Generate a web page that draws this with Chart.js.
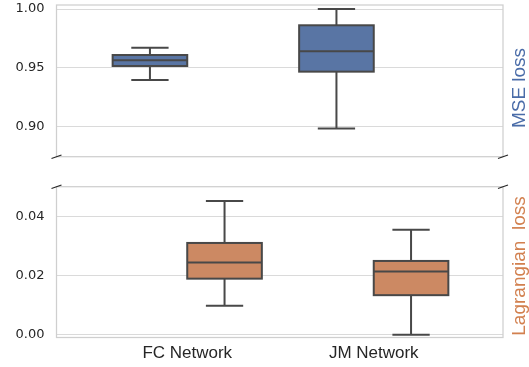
<!DOCTYPE html>
<html>
<head>
<meta charset="utf-8">
<script src="https://cdn.jsdelivr.net/npm/chart.js@4.4.1/dist/chart.umd.min.js"></script>
<style>
  html, body { margin: 0; padding: 0; background: #fff; }
  #wrap { position: relative; width: 529px; height: 367px; }
  #wrap canvas { position: absolute; left: 0; top: 0; }
</style>
</head>
<body>
<div id="wrap">
  <canvas id="mseChart" width="529" height="367"></canvas>
  <canvas id="lagChart" width="529" height="367"></canvas>
</div>
<script>
const categories = ["FC Network", "JM Network"];
const catPos = [0, 1];

// MSE loss (top panel)
const mseLow = [0.9398, 0.8986];
const mseQ1 = [0.9517, 0.9469];
const mseMed = [0.9565, 0.9641];
const mseQ3 = [0.9610, 0.9862];
const mseHigh = [0.9672, 1.0000];
const mseTicks = [0.90, 0.95, 1.00];

// Lagrangian loss (bottom panel)
const lagLow = [0.0098, 0.0000];
const lagQ1 = [0.0190, 0.0134];
const lagMed = [0.0245, 0.0214];
const lagQ3 = [0.0311, 0.0250];
const lagHigh = [0.0453, 0.0356];
const lagTicks = [0.00, 0.02, 0.04];

const colors = {
  mseBox: "#5975a4",
  lagBox: "#cc8963",
  mseText: "#4a6ca8",
  lagText: "#d2804f",
  line: "#484848",
  spine: "#cfcfcf",
  grid: "#dadada",
  tick: "#262626"
};

const W = 529, H = 367;
const plotLeft = 56.5, plotRight = 503;
const xMin = -0.701, xMax = 1.693;
const boxWidth = 0.4, hueOffset = 0.2;

function boxPlugin(id, stats, offset, fill) {
  return {
    id,
    afterDatasetsDraw(chart) {
      const { ctx, scales: { x, y } } = chart;
      const half = (x.getPixelForValue(boxWidth / 2) - x.getPixelForValue(0));
      ctx.save();
      ctx.strokeStyle = colors.line;
      ctx.lineWidth = 2;
      stats.low.forEach((_, i) => {
        const xc = x.getPixelForValue(catPos[i] + offset);
        const yLow = y.getPixelForValue(stats.low[i]);
        const yQ1 = y.getPixelForValue(stats.q1[i]);
        const yMed = y.getPixelForValue(stats.med[i]);
        const yQ3 = y.getPixelForValue(stats.q3[i]);
        const yHigh = y.getPixelForValue(stats.high[i]);
        ctx.beginPath();
        ctx.moveTo(xc, yQ3); ctx.lineTo(xc, yHigh);
        ctx.moveTo(xc, yQ1); ctx.lineTo(xc, yLow);
        ctx.moveTo(xc - half / 2, yHigh); ctx.lineTo(xc + half / 2, yHigh);
        ctx.moveTo(xc - half / 2, yLow); ctx.lineTo(xc + half / 2, yLow);
        ctx.stroke();
        ctx.fillStyle = fill;
        ctx.fillRect(xc - half, yQ3, half * 2, yQ1 - yQ3);
        ctx.strokeRect(xc - half, yQ3, half * 2, yQ1 - yQ3);
        ctx.beginPath();
        ctx.moveTo(xc - half, yMed); ctx.lineTo(xc + half, yMed);
        ctx.stroke();
      });
      ctx.restore();
    }
  };
}

function framePlugin(id, label, labelColor, labelY, breakAt) {
  return {
    id,
    afterDraw(chart) {
      const { ctx, chartArea: a } = chart;
      ctx.save();
      ctx.strokeStyle = colors.spine;
      ctx.lineWidth = 1.25;
      ctx.strokeRect(a.left, a.top, a.right - a.left, a.bottom - a.top);
      // break marks
      const yb = breakAt === "bottom" ? a.bottom : a.top;
      ctx.strokeStyle = colors.tick;
      ctx.lineWidth = 1.1;
      [a.left, a.right].forEach(xb => {
        ctx.beginPath();
        ctx.moveTo(xb - 5, yb + 1.8);
        ctx.lineTo(xb + 5, yb - 1.8);
        ctx.stroke();
      });
      // right-hand label
      ctx.translate(525, labelY);
      ctx.rotate(-Math.PI / 2);
      ctx.fillStyle = labelColor;
      ctx.font = '19px "Liberation Sans", Arial, sans-serif';
      ctx.textAlign = "center";
      ctx.textBaseline = "alphabetic";
      ctx.fillText(label, 0, 0);
      ctx.restore();
    }
  };
}

function yAxis(min, max, tickValues) {
  return {
    type: "linear",
    min, max,
    afterBuildTicks: s => { s.ticks = tickValues.map(v => ({ value: v })); },
    afterFit: s => { s.width = plotLeft; s.paddingTop = 0; s.paddingBottom = 0; },
    grid: { color: colors.grid, lineWidth: 1, drawTicks: false },
    border: { display: false },
    ticks: {
      padding: 12,
      color: colors.tick,
      font: { family: '"DejaVu Sans", sans-serif', size: 13 },
      callback: v => Number(v).toFixed(2)
    }
  };
}

Chart.defaults.animation = false;

new Chart(document.getElementById("mseChart"), {
  type: "scatter",
  data: { datasets: [] },
  options: {
    responsive: false,
    layout: { padding: { left: 0, top: 5, right: W - plotRight, bottom: H - 156.7 } },
    plugins: { legend: { display: false }, tooltip: { enabled: false } },
    scales: {
      x: { type: "linear", min: xMin, max: xMax, display: false },
      y: yAxis(0.8748, 1.0034, mseTicks)
    }
  },
  plugins: [
    boxPlugin("mseBoxes", { low: mseLow, q1: mseQ1, med: mseMed, q3: mseQ3, high: mseHigh }, -hueOffset, colors.mseBox),
    framePlugin("mseFrame", "MSE loss", colors.mseText, 88, "bottom")
  ]
});

new Chart(document.getElementById("lagChart"), {
  type: "scatter",
  data: { datasets: [] },
  options: {
    responsive: false,
    layout: { padding: { left: 0, top: 186.7, right: W - plotRight, bottom: 0 } },
    plugins: { legend: { display: false }, tooltip: { enabled: false } },
    scales: {
      x: {
        type: "linear",
        min: xMin, max: xMax,
        afterBuildTicks: s => { s.ticks = catPos.map(v => ({ value: v })); },
        afterFit: s => { s.height = H - 337.5; s.paddingLeft = 0; s.paddingRight = 0; },
        grid: { display: false, drawTicks: false },
        border: { display: false },
        ticks: {
          padding: 6,
          maxRotation: 0,
          color: colors.tick,
          font: { family: '"Liberation Sans", Arial, sans-serif', size: 17 },
          callback: v => categories[catPos.indexOf(v)]
        }
      },
      y: yAxis(-0.00095, 0.05017, lagTicks)
    }
  },
  plugins: [
    boxPlugin("lagBoxes", { low: lagLow, q1: lagQ1, med: lagMed, q3: lagQ3, high: lagHigh }, hueOffset, colors.lagBox),
    framePlugin("lagFrame", "Lagrangian  loss", colors.lagText, 266, "top")
  ]
});
</script>
</body>
</html>
